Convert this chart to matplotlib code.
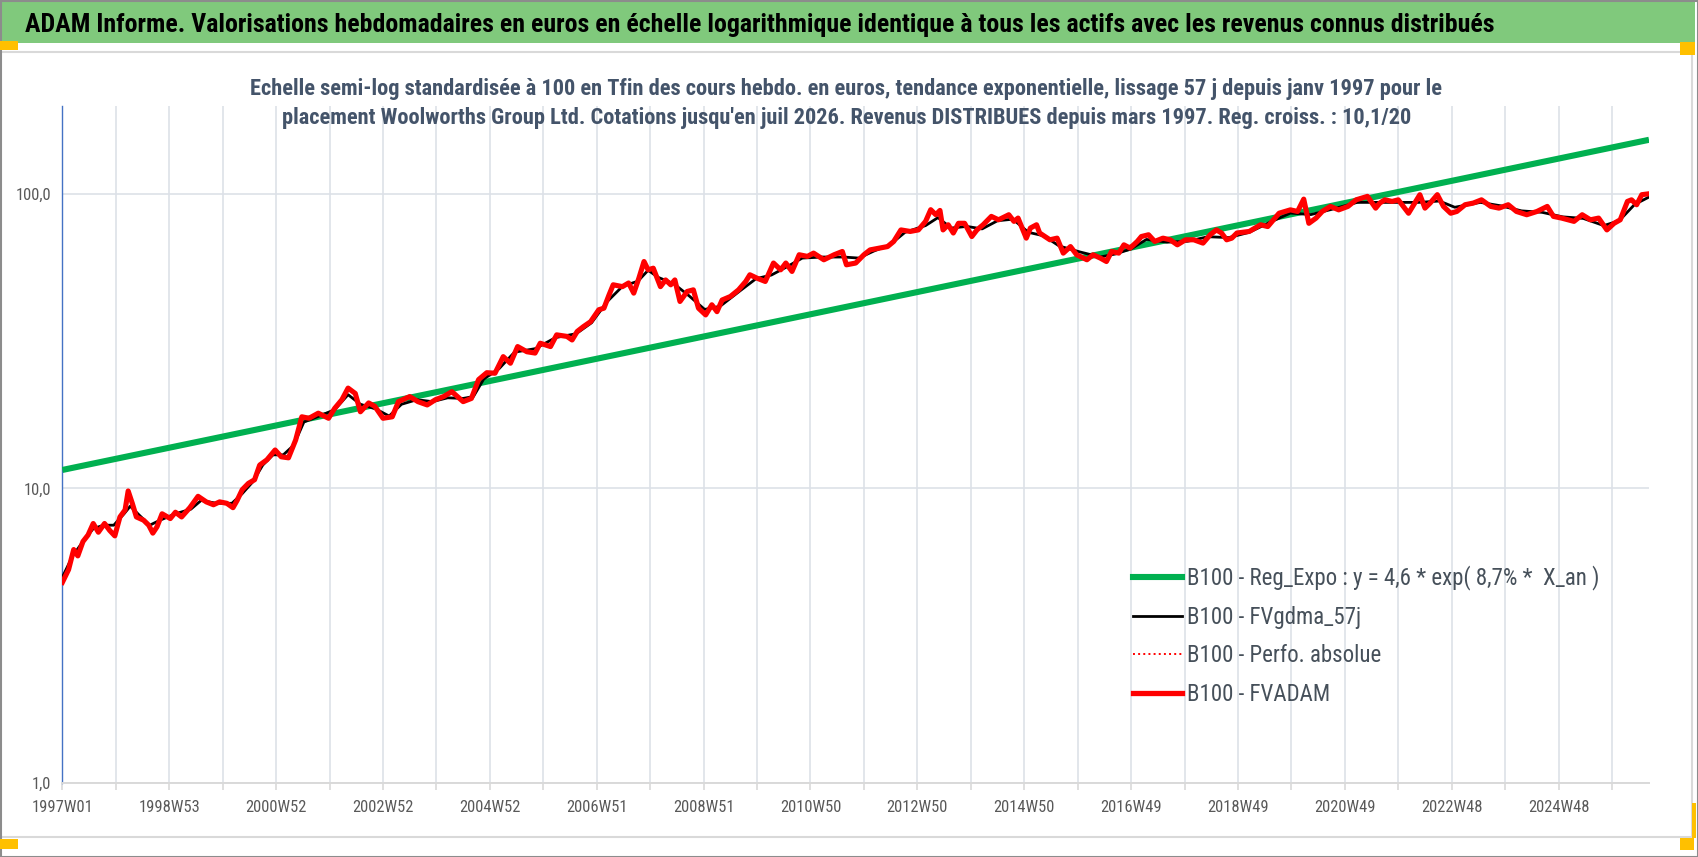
import matplotlib
matplotlib.use('Agg')
import matplotlib.pyplot as plt
from matplotlib import font_manager as fm
from matplotlib.lines import Line2D
from matplotlib.patches import Rectangle
from matplotlib.ticker import NullLocator, FixedLocator

# ---------------- data ----------------
red_weeks = [0, 6, 11, 15, 20, 25, 30, 35, 41, 46, 51, 56, 61, 64, 68, 72, 79, 84, 88, 92,
             97, 105, 110, 116, 124, 132, 140, 147, 153, 160, 166, 170, 175, 181, 187, 192,
             199, 207, 213, 220, 227, 233, 240, 249, 259, 265, 272, 278, 285, 290, 298, 304,
             312, 321, 327, 338, 346, 355, 363, 371, 379, 390, 398, 405, 413, 421, 429, 436,
             443, 452, 460, 465, 475, 481, 491, 496, 501, 507, 514, 522, 527, 532, 536, 545,
             551, 556, 561, 566, 570, 575, 582, 587, 592, 596, 601, 608, 614, 619, 626, 632,
             637, 642, 650, 658, 665, 669, 676, 684, 692, 699, 704, 710, 717, 725, 731, 741,
             751, 759, 763, 772, 780, 786, 803, 809, 816, 825, 833, 840, 845, 850, 854,
             857, 862, 867, 872, 878, 885, 890, 896, 904, 911, 921, 926, 930, 938, 942, 948,
             951, 961, 968, 974, 981, 987, 997, 1003, 1010, 1016, 1021, 1028, 1033, 1039,
             1046, 1050, 1057, 1063, 1071, 1078, 1085, 1093, 1101, 1110, 1117, 1123, 1128,
             1133, 1138, 1143, 1155, 1166, 1173, 1184, 1195, 1202, 1208, 1213,
             1220, 1226, 1234, 1242, 1251, 1259, 1270, 1278, 1282, 1287, 1294, 1300, 1310,
             1315, 1321, 1326, 1331, 1338, 1344, 1351, 1357, 1365, 1373, 1381, 1390, 1398,
             1407, 1415, 1425, 1435, 1445, 1451, 1459, 1471, 1479, 1487, 1495, 1503, 1510,
             1516, 1523, 1527, 1532, 1537, 1544]
red_values = [4.8, 5.3, 6.2, 5.9, 6.6, 6.95, 7.6, 7.1, 7.6, 7.2, 6.9, 8.0, 8.45, 9.8, 8.9, 8.0,
              7.8, 7.5, 7.05, 7.4, 8.2, 7.9, 8.3, 8.0, 8.6, 9.4, 9.0, 8.8, 9.0, 8.9, 8.6, 9.1,
              9.9, 10.4, 10.7, 12.0, 12.5, 13.5, 12.8, 12.7, 14.6, 17.5, 17.3, 18.0, 17.3, 18.7,
              20.0, 21.9, 21.0, 18.2, 19.5, 19.0, 17.3, 17.5, 19.7, 20.5, 19.7, 19.2, 20.0, 20.5,
              21.3, 19.7, 20.2, 23.4, 24.7, 24.6, 28.0, 26.6, 30.3, 29.1, 28.8, 31.1, 30.3, 33.2,
              32.8, 31.9, 34.1, 35.4, 36.8, 40.4, 40.9, 45.4, 49.1, 48.4, 49.8, 46.0, 51.7, 58.9,
              55.2, 55.9, 48.4, 51.0, 49.1, 51.0, 43.1, 46.6, 47.2, 40.9, 38.8, 42.0, 39.8, 43.6,
              44.8, 47.2, 50.4, 53.1, 51.7, 50.4, 58.2, 55.2, 58.2, 54.5, 62.1, 61.3, 62.9, 59.7,
              62.1, 63.7, 57.4, 58.2, 62.1, 64.5, 66.2, 68.9, 75.4, 74.5, 75.4, 80.6, 88.3, 84.9,
              87.8,
              75.4, 78.5, 73.6, 79.4, 79.4, 71.6, 75.4, 78.5, 83.8, 81.6, 84.9, 80.6, 82.7,
              70.7, 76.5, 78.5, 73.6, 69.8, 70.7, 62.9, 66.2, 62.1, 59.7, 62.1, 60.5, 58.9,
              63.7, 62.9, 67.1, 65.4, 68.9, 71.6, 72.6, 68.9, 70.7, 69.8, 67.1, 69.8, 69.8,
              68.0, 72.6, 75.4, 73.6, 69.8, 70.7, 73.6, 74.5, 78.5, 77.4, 85.9, 88.2,
              87.1, 95.9, 79.4, 82.7, 87.1, 90.6, 88.2, 90.6, 95.4, 98.0, 89.4, 93.0, 95.4,
              94.2, 95.4, 85.9, 91.8, 99.3, 89.4, 93.0, 99.3, 90.6, 85.9, 87.1, 91.8, 93.0,
              95.4, 90.6, 89.4, 91.8, 87.1, 84.9, 87.1, 90.6, 83.8, 82.7, 80.6, 84.9, 81.6,
              82.7, 75.4, 79.4, 81.6, 94.2, 95.4, 91.8, 99.3, 100.0]

black_weeks = [0, 10, 20, 30, 40, 50, 60, 66, 75, 85, 95, 110, 125, 135, 150, 165, 175, 185,
               195, 205, 215, 225, 235, 250, 265, 278, 290, 305, 318, 330, 345, 360, 375, 390,
               400, 410, 425, 440, 460, 480, 500, 515, 530, 545, 560, 570, 580, 595, 610, 625,
               640, 660, 675, 690, 705, 720, 740, 760, 775, 790, 805, 820, 840, 852, 865, 880,
               895, 910, 925, 940, 955, 970, 990, 1010, 1025, 1040, 1055, 1075, 1095, 1115,
               1135, 1155, 1175, 1195, 1215, 1235, 1260, 1280, 1300, 1320, 1340, 1355, 1380,
               1400, 1420, 1440, 1460, 1480, 1500, 1515, 1530, 1544]
black_values = [5.0, 5.9, 6.6, 7.3, 7.5, 7.5, 8.2, 8.7, 8.1, 7.5, 7.8, 8.2, 8.5, 9.1, 8.9, 8.9,
                9.6, 10.5, 12.0, 13.0, 13.0, 14.0, 16.8, 17.6, 18.5, 20.8, 19.3, 18.6, 17.6,
                19.3, 20.0, 19.7, 20.3, 20.2, 20.5, 23.5, 25.5, 29.0, 29.8, 32.5, 33.5, 36.5,
                43.0, 48.5, 50.5, 55.0, 52.0, 49.5, 45.0, 40.5, 41.5, 47.0, 51.5, 53.0, 56.5,
                60.5, 61.0, 61.0, 60.5, 64.0, 67.0, 74.0, 78.0, 83.0, 76.5, 77.5, 76.0, 81.0,
                82.0, 74.0, 72.0, 66.5, 63.5, 61.0, 62.5, 65.0, 70.0, 68.5, 69.0, 71.5, 71.0,
                74.0, 80.0, 86.0, 85.0, 88.5, 93.5, 93.5, 93.5, 93.5, 94.5, 90.0, 93.5, 91.0,
                87.5, 86.5, 83.5, 82.5, 78.0, 81.0, 92.0, 97.5]

reg_weeks = [0, 1544]
reg_values = [11.55, 152.5]

week_ticks = list(range(0, 1545, 52))
tick_labels = ['1997W01', '1998W53', '2000W52', '2002W52', '2004W52', '2006W51', '2008W51',
               '2010W50', '2012W50', '2014W50', '2016W49', '2018W49', '2020W49', '2022W48',
               '2024W48']
y_ticks = [1, 10, 100]
y_tick_labels = ['1,0', '10,0', '100,0']

legend_labels = ['B100 - Reg_Expo : y = 4,6 * exp( 8,7% *  X_an )',
                 'B100 - FVgdma_57j',
                 'B100 - Perfo. absolue',
                 'B100 - FVADAM']

title = ("ADAM Informe. Valorisations hebdomadaires en euros en échelle logarithmique "
         "identique à tous les actifs avec les revenus connus distribués")
sub1 = ("Echelle semi-log standardisée à 100 en Tfin des cours hebdo. en euros, tendance "
        "exponentielle, lissage 57 j depuis janv 1997 pour le")
sub2 = ("placement Woolworths Group Ltd. Cotations jusqu'en juil 2026. Revenus DISTRIBUES "
        "depuis mars 1997. Reg. croiss. : 10,1/20")

# ---------------- fonts ----------------
names = {f.name for f in fm.fontManager.ttflist}
def pick(*cands):
    for c in cands:
        if c in names:
            return c
    return 'DejaVu Sans'
FONT = pick('Liberation Sans Narrow', 'Roboto Condensed', 'Open Sans Condensed',
            'Noto Sans Display', 'Liberation Sans')
plt.rcParams['font.family'] = [FONT, 'DejaVu Sans']

W, H = 1698, 857
fig = plt.figure(figsize=(W / 100, H / 100), dpi=100)
fig.patch.set_facecolor('white')

def rect(x, y, w, h, color, z=0):
    fig.patches.append(Rectangle((x / W, 1 - (y + h) / H), w / W, h / H,
                                 transform=fig.transFigure, facecolor=color,
                                 edgecolor='none', zorder=z))

def fline(xs, ys, color, lw):
    fig.lines.append(Line2D([x / W for x in xs], [1 - y / H for y in ys],
                            transform=fig.transFigure, color=color, lw=lw))

# title bar and frame
rect(0, 2, 1695, 41, '#80C97C')
fline([0, 1692, 1692, 0], [52, 52, 837, 837], '#D9D9D9', 1.5)
fline([0.5, 1697.5, 1697.5, 0.5, 0.5], [0.5, 0.5, 856.5, 856.5, 0.5], '#8C8C8C', 1.5)
# orange corner markers
rect(0, 41, 18, 9, '#FFC000', 2)
rect(0, 839, 18, 10, '#FFC000', 2)
rect(1680, 42, 15, 13, '#FFC000', 2)
rect(1680, 838, 14, 12, '#FFC000', 2)
rect(1692, 803, 4, 35, '#FFC000', 2)

# ---------------- axes ----------------
x0, x1, ytop, ybot = 62.4, 1649, 106, 783
ax = fig.add_axes([x0 / W, 1 - ybot / H, (x1 - x0) / W, (ybot - ytop) / H])
ax.set_facecolor('none')
ax.set_yscale('log')
ax.set_xlim(0, 1544)
ax.set_ylim(1, 198.6)
ax.yaxis.set_major_locator(FixedLocator(y_ticks))
ax.yaxis.set_minor_locator(NullLocator())
ax.set_yticklabels(y_tick_labels)
ax.set_xticks(week_ticks)
xl = []
for i in range(len(week_ticks)):
    xl.append(tick_labels[i // 2] if i % 2 == 0 else '')
ax.set_xticklabels(xl)
ax.grid(True, color='#DDE1E8', lw=1.2)
ax.set_axisbelow(True)
for s in ['top', 'right']:
    ax.spines[s].set_visible(False)
ax.spines['left'].set_color('#4472C4')
ax.spines['left'].set_linewidth(1.0)
ax.spines['bottom'].set_color('#D9D9D9')
ax.spines['bottom'].set_linewidth(1.4)
ax.tick_params(axis='x', length=5, width=1.2, color='#D9D9D9', pad=7, labelcolor='#595959')
ax.tick_params(axis='y', length=0, pad=8, labelcolor='#595959')

ax.plot(reg_weeks, reg_values, color='#00B050', lw=4.4, solid_capstyle='butt', zorder=3)
ax.plot(black_weeks, black_values, color='black', lw=2.0, zorder=4)
ax.plot(red_weeks, red_values, color='#FF0000', lw=1.2, ls=':', zorder=5)
ax.plot(red_weeks, red_values, color='#FF0000', lw=3.7, zorder=6, solid_joinstyle='round')

# ---------------- texts ----------------
fig.canvas.draw()
R = fig.canvas.get_renderer()

def width(t):
    return t.get_window_extent(R).width

def fit(t, target):
    for _ in range(2):
        t.set_fontsize(t.get_fontsize() * target / width(t))

t_title = fig.text(25 / W, 1 - 32 / H, title, fontsize=18, fontweight='bold', color='black',
                   ha='left', va='baseline')
fit(t_title, 1471)
t_s1 = fig.text(845.5 / W, 1 - 95 / H, sub1, fontsize=14, fontweight='bold', color='#44546A',
                ha='center', va='baseline')
fit(t_s1, 1191)
t_s2 = fig.text(846.5 / W, 1 - 124 / H, sub2, fontsize=t_s1.get_fontsize(), fontweight='bold',
                color='#44546A', ha='center', va='baseline')

# tick label size fitted on one label width
probe = fig.text(0, 0, '1997W01', fontsize=12)
fit(probe, 62)
tick_fs = probe.get_fontsize()
probe.remove()
for lab in ax.get_xticklabels() + ax.get_yticklabels():
    lab.set_fontsize(tick_fs)

# legend
handles = [Line2D([], [], color='#00B050', lw=4.4),
           Line2D([], [], color='black', lw=2.0),
           Line2D([], [], color='#FF0000', lw=1.4, ls=':'),
           Line2D([], [], color='#FF0000', lw=3.8)]
probe = fig.text(0, 0, legend_labels[0], fontsize=14)
fit(probe, 412)
leg_fs = probe.get_fontsize()
probe.remove()
fpx = leg_fs * 100 / 72
spacing = 0.8
bx, by = 1133, 560
for _ in range(3):
    leg = fig.legend(handles, legend_labels, loc='upper left',
                     bbox_to_anchor=(bx / W, 1 - by / H), frameon=False, fontsize=leg_fs,
                     handlelength=49 / fpx, handletextpad=5 / fpx, labelspacing=spacing,
                     borderpad=0, borderaxespad=0)
    for tx in leg.get_texts():
        tx.set_color('#46505A')
    fig.canvas.draw()
    ex = [tx.get_window_extent(R) for tx in leg.get_texts()]
    cy0 = H - (ex[0].y0 + ex[0].y1) / 2
    gap = ((ex[0].y0 + ex[0].y1) - (ex[3].y0 + ex[3].y1)) / 2 / 3
    by += 578 - cy0
    bx += 1187 - ex[0].x0
    spacing += (38.7 - gap) / fpx
    leg.remove()
leg = fig.legend(handles, legend_labels, loc='upper left',
                 bbox_to_anchor=(bx / W, 1 - by / H), frameon=False, fontsize=leg_fs,
                 handlelength=49 / fpx, handletextpad=5 / fpx, labelspacing=spacing,
                 borderpad=0, borderaxespad=0)
for tx in leg.get_texts():
    tx.set_color('#46505A')

fig.savefig('out.png', dpi=100, facecolor='white')
